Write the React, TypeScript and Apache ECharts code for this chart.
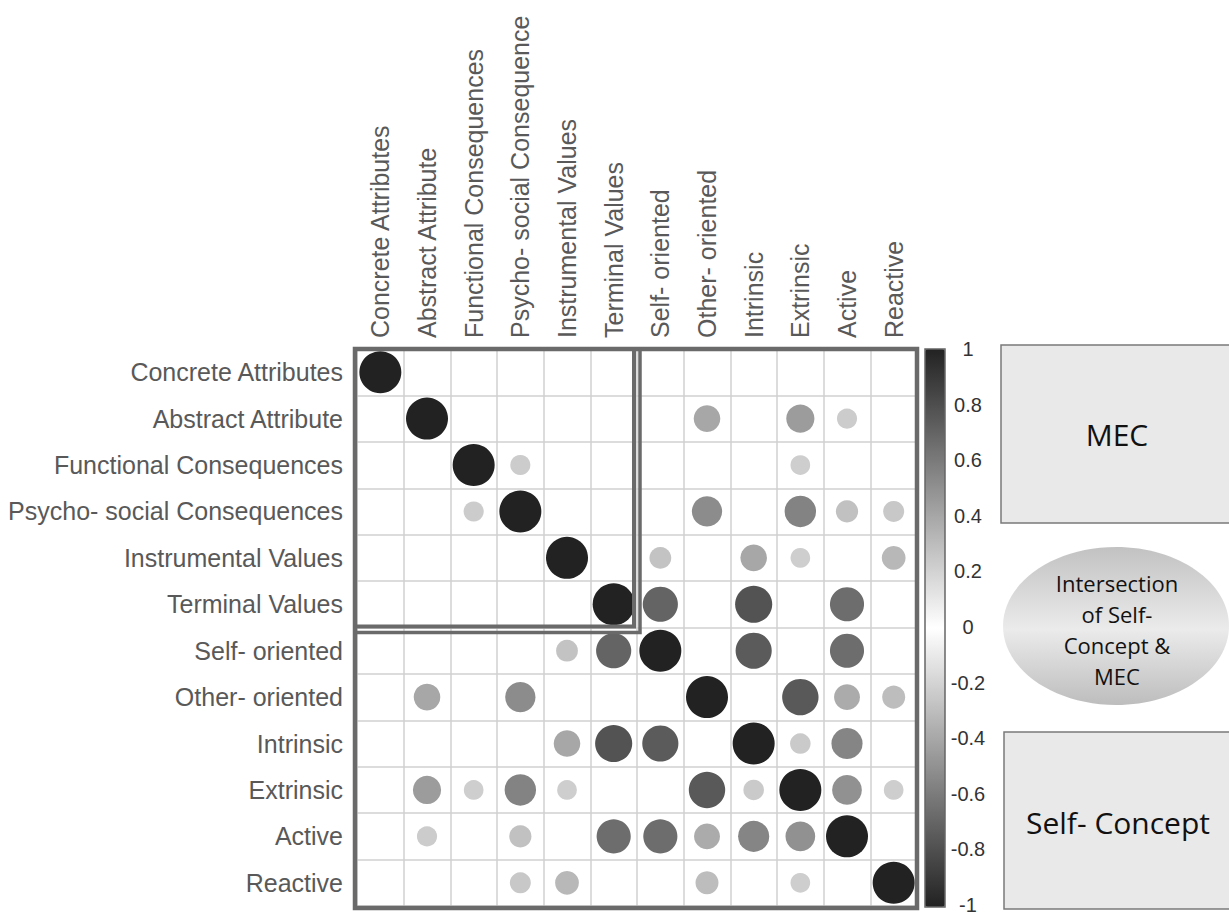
import React, { useEffect, useRef } from "react";
import * as echarts from "echarts";

const categories = [
  "Concrete Attributes",
  "Abstract Attribute",
  "Functional Consequences",
  "Psycho- social Consequences",
  "Instrumental Values",
  "Terminal Values",
  "Self- oriented",
  "Other- oriented",
  "Intrinsic",
  "Extrinsic",
  "Active",
  "Reactive",
];
const colCategories = [
  "Concrete Attributes",
  "Abstract Attribute",
  "Functional Consequences",
  "Psycho- social Consequence",
  "Instrumental Values",
  "Terminal Values",
  "Self- oriented",
  "Other- oriented",
  "Intrinsic",
  "Extrinsic",
  "Active",
  "Reactive",
];

const rowConcrete = [1, 0, 0, 0, 0, 0, 0, 0, 0, 0, 0, 0];
const rowAbstract = [0, 1, 0, 0, 0, 0, 0, 0.4, 0, 0.45, 0.23, 0];
const rowFunctional = [0, 0, 1, 0.23, 0, 0, 0, 0, 0, 0.22, 0, 0];
const rowPsycho = [0, 0, 0.23, 1, 0, 0, 0, 0.52, 0, 0.56, 0.28, 0.25];
const rowInstrumental = [0, 0, 0, 0, 1, 0, 0.27, 0, 0.4, 0.22, 0, 0.32];
const rowTerminal = [0, 0, 0, 0, 0, 1, 0.7, 0, 0.78, 0, 0.66, 0];
const rowSelf = [0, 0, 0, 0, 0.27, 0.7, 1, 0, 0.74, 0, 0.66, 0];
const rowOther = [0, 0.4, 0, 0.52, 0, 0, 0, 1, 0, 0.75, 0.38, 0.3];
const rowIntrinsic = [0, 0, 0, 0, 0.4, 0.78, 0.74, 0, 1, 0.24, 0.55, 0];
const rowExtrinsic = [0, 0.45, 0.22, 0.56, 0.22, 0, 0, 0.75, 0.24, 1, 0.5, 0.22];
const rowActive = [0, 0.23, 0, 0.28, 0, 0.66, 0.66, 0.38, 0.55, 0.5, 1, 0];
const rowReactive = [0, 0, 0, 0.25, 0.32, 0, 0, 0.3, 0, 0.22, 0, 1];

const matrix = [
  rowConcrete,
  rowAbstract,
  rowFunctional,
  rowPsycho,
  rowInstrumental,
  rowTerminal,
  rowSelf,
  rowOther,
  rowIntrinsic,
  rowExtrinsic,
  rowActive,
  rowReactive,
];

const colorbarTicks = [-1, -0.8, -0.6, -0.4, -0.2, 0, 0.2, 0.4, 0.6, 0.8, 1];

// layout constants
const GL = 357;
const GT = 349;
const GW = 560;
const GH = 557;
const CB_L = 925;
const CB_W = 20;
const CB_T = 349;
const CB_H = 558;

export default function App() {
  const ref = useRef<HTMLDivElement>(null);
  useEffect(() => {
    if (!ref.current) return;
    const chart = echarts.init(ref.current, undefined, { renderer: "svg" });
    const data: number[][] = [];
    matrix.forEach((row, i) => {
      row.forEach((v, j) => {
        if (v !== 0) data.push([j, i, v]);
      });
    });
    const cw = GW / 12;
    const ch = GH / 12;
    const border = "#6a6a6a";
    const labelFont = "'Liberation Sans', Arial, sans-serif";
    const boxFont = "'Open Sans', sans-serif";
    chart.setOption({
      animation: false,
      backgroundColor: "#ffffff",
      grid: [
        { left: GL, top: GT, width: GW, height: GH, containLabel: false },
        { left: CB_L, top: CB_T, width: CB_W, height: CB_H, containLabel: false },
      ],
      xAxis: [
        {
          type: "category",
          gridIndex: 0,
          data: colCategories,
          position: "top",
          boundaryGap: true,
          axisLine: { show: false },
          axisTick: { show: false },
          axisLabel: {
            rotate: -90,
            interval: 0,
            margin: 11,
            fontSize: 25,
            color: "#595959",
            fontFamily: labelFont,
          },
          splitLine: {
            show: true,
            interval: 0,
            lineStyle: { color: "#d0d0d0", width: 1.5 },
          },
        },
        { type: "value", gridIndex: 1, show: false, min: 0, max: 1 },
      ],
      yAxis: [
        {
          type: "category",
          gridIndex: 0,
          data: categories,
          inverse: true,
          boundaryGap: true,
          axisLine: { show: false },
          axisTick: { show: false },
          axisLabel: {
            interval: 0,
            margin: 14,
            fontSize: 25,
            color: "#595959",
            fontFamily: labelFont,
          },
          splitLine: {
            show: true,
            interval: 0,
            lineStyle: { color: "#d0d0d0", width: 1.5 },
          },
        },
        {
          type: "value",
          gridIndex: 1,
          position: "right",
          min: -1,
          max: 1,
          interval: 0.2,
          axisLine: { show: false },
          splitLine: { show: false },
          axisTick: {
            show: true,
            length: 5,
            lineStyle: { color: "#333", width: 1 },
          },
          axisLabel: {
            margin: 23,
            align: "center",
            fontSize: 20,
            color: "#333",
            fontFamily: labelFont,
            padding: [8, 0, 0, 0],
            customValues: colorbarTicks,
            formatter: (v: number) => String(Number(v.toFixed(1))),
          },
        },
      ],
      visualMap: {
        type: "continuous",
        min: -1,
        max: 1,
        dimension: 2,
        seriesIndex: 0,
        calculable: false,
        hoverLink: false,
        left: CB_L,
        top: CB_T,
        itemWidth: CB_W,
        itemHeight: CB_H,
        padding: 0,
        text: ["", ""],
        inRange: { color: ["#222222", "#ffffff", "#222222"] },
      },
      series: [
        {
          type: "scatter",
          xAxisIndex: 0,
          yAxisIndex: 0,
          data,
          symbol: "circle",
          symbolSize: (val: number[]) => 42 * Math.sqrt(Math.abs(val[2])),
          itemStyle: { opacity: 1 },
          emphasis: { disabled: true },
          z: 3,
        },
      ],
      graphic: [
        // outer border
        {
          type: "rect",
          z: 100,
          shape: { x: GL - 2, y: GT, width: GW + 2, height: GH + 2 },
          style: { fill: "none", stroke: border, lineWidth: 4.5 },
        },
        // MEC block border
        {
          type: "rect",
          z: 100,
          shape: { x: GL - 2, y: GT, width: cw * 6 - 1, height: ch * 6 - 1 },
          style: { fill: "none", stroke: border, lineWidth: 4 },
        },
        {
          type: "polyline",
          z: 100,
          shape: {
            points: [
              [GL + cw * 6 + 3, GT],
              [GL + cw * 6 + 3, GT + ch * 6 + 5],
              [GL - 2, GT + ch * 6 + 5],
            ],
          },
          style: { fill: "none", stroke: border, lineWidth: 3.5 },
        },
        // colorbar border
        {
          type: "rect",
          z: 100,
          shape: { x: CB_L, y: CB_T, width: CB_W, height: CB_H },
          style: { fill: "none", stroke: "#666", lineWidth: 1.5 },
        },
        // MEC box
        {
          type: "rect",
          z: 10,
          shape: { x: 1001, y: 345, width: 240, height: 178 },
          style: { fill: "#e9e9e9", stroke: "#7a7a7a", lineWidth: 1.5 },
        },
        {
          type: "text",
          z: 11,
          x: 1117,
          y: 434,
          style: {
            text: "MEC",
            fontSize: 30,
            fontFamily: boxFont,
            fill: "#111",
            align: "center",
            verticalAlign: "middle",
          },
        },
        // ellipse
        {
          type: "ellipse",
          z: 10,
          shape: { cx: 1116, cy: 626, rx: 113, ry: 79 },
          style: {
            fill: new echarts.graphic.LinearGradient(0, 0, 0, 1, [
              { offset: 0, color: "#c2c2c2" },
              { offset: 0.52, color: "#ebebeb" },
              { offset: 1, color: "#bdbdbd" },
            ]),
          },
        },
        {
          type: "text",
          z: 11,
          x: 1117,
          y: 629,
          style: {
            text: "Intersection\nof Self-\nConcept &\nMEC",
            fontSize: 22,
            lineHeight: 31,
            fontFamily: boxFont,
            fill: "#111",
            align: "center",
            verticalAlign: "middle",
          },
        },
        // Self-Concept box
        {
          type: "rect",
          z: 10,
          shape: { x: 1004, y: 732, width: 240, height: 177 },
          style: { fill: "#e9e9e9", stroke: "#7a7a7a", lineWidth: 1.5 },
        },
        {
          type: "text",
          z: 11,
          x: 1118,
          y: 822,
          style: {
            text: "Self- Concept",
            fontSize: 30,
            fontFamily: boxFont,
            fill: "#111",
            align: "center",
            verticalAlign: "middle",
          },
        },
      ],
    });
    return () => chart.dispose();
  }, []);
  return (
    <div
      ref={ref}
      style={{ position: "absolute", left: 0, top: 0, width: 1229, height: 915 }}
    />
  );
}
